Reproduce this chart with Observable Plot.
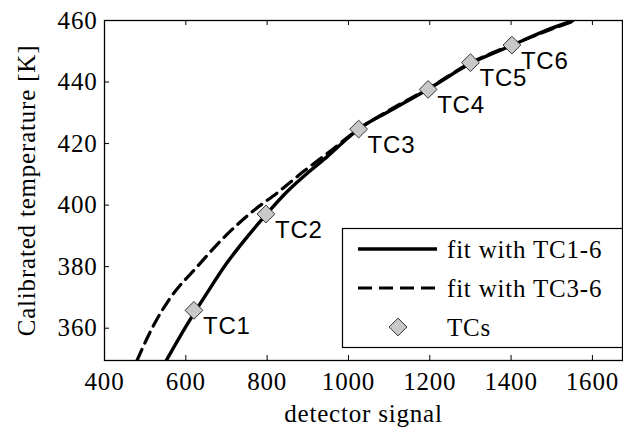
<!DOCTYPE html>
<html>
<head>
<meta charset="utf-8">
<script src="https://cdn.jsdelivr.net/npm/d3@7"></script>
<script src="https://cdn.jsdelivr.net/npm/@observablehq/plot@0.6"></script>
<style>
  html, body { margin: 0; padding: 0; background: white; }
</style>
</head>
<body>
<div id="chart"></div>
<script>
// ---- data ----
const fitAllX = [552, 600, 650, 700, 750, 800, 850, 900, 950, 1000, 1025, 1100, 1200, 1300, 1400, 1500, 1552];
const fitAllY = [349.5, 360.5, 371, 381, 389.5, 397.3, 404.5, 410.5, 416, 422, 424.7, 430.5, 438, 446, 451.8, 457.5, 460];
const fit36X = [480, 517, 560, 628, 690, 760, 830, 889, 950, 1025, 1100, 1200, 1300, 1400, 1500, 1558];
const fit36Y = [349.5, 360, 369.5, 380, 389, 397.5, 404.5, 410.9, 417, 424.7, 430.8, 438.2, 446.2, 452, 457.2, 460];
const tcNames = ["TC1", "TC2", "TC3", "TC4", "TC5", "TC6"];
const tcX = [620, 797, 1025, 1196, 1300, 1402];
const tcY = [365.8, 397.1, 424.7, 437.6, 446.3, 452];
const xTicks = [400, 600, 800, 1000, 1200, 1400, 1600];
const yTicks = [360, 380, 400, 420, 440, 460];
const legendLabels = ["fit with TC1-6", "fit with TC3-6", "TCs"];
const xLabel = "detector signal";
const yLabel = "Calibrated temperature [K]";

const fitAll = fitAllX.map((x, i) => ({x, y: fitAllY[i]}));
const fit36 = fit36X.map((x, i) => ({x, y: fit36Y[i]}));
const tcs = tcNames.map((name, i) => ({name, x: tcX[i], y: tcY[i]}));

const W = 623, H = 432;
const mL = 104, mR = 1, mT = 20, mB = 72;
const pW = W - mL - mR, pH = H - mT - mB;
const serif = "Liberation Serif, Times New Roman, serif";
const sans = "Liberation Sans, Arial, sans-serif";

const chart = Plot.plot({
  width: W,
  height: H,
  marginLeft: mL,
  marginRight: mR,
  marginTop: mT,
  marginBottom: mB,
  style: {fontFamily: serif, fontSize: "25px", letterSpacing: "0.8px", background: "white", color: "black", overflow: "visible"},
  x: {domain: [400, 1674], ticks: xTicks, tickSize: 0, tickPadding: 12, tickFormat: d3.format("d"), label: null},
  y: {domain: [349.5, 460], ticks: yTicks, tickSize: 0, tickPadding: 7, tickFormat: d3.format("d"), label: null},
  marks: [
    Plot.line(fit36, {x: "x", y: "y", stroke: "black", strokeWidth: 3.2, strokeDasharray: "12,7", curve: "monotone-x", clip: true}),
    Plot.line(fitAll, {x: "x", y: "y", stroke: "black", strokeWidth: 3.4, curve: "monotone-x", clip: true}),
    Plot.dot(tcs, {x: "x", y: "y", symbol: "diamond2", r: 8, fill: "#c8c8c8", stroke: "#333", strokeWidth: 1}),
    Plot.text(tcs, {x: "x", y: "y", text: "name", textAnchor: "start", dx: 9, dy: 16, fontFamily: sans, fontSize: 24, fill: "black"}),
    Plot.tickX(xTicks.slice(1), {x: d => d, insetTop: pH - 5, stroke: "black", strokeWidth: 1}),
    Plot.tickX(xTicks.slice(1), {x: d => d, insetBottom: pH - 5, stroke: "black", strokeWidth: 1}),
    Plot.tickY(yTicks.slice(0, -1), {y: d => d, insetRight: pW - 5, stroke: "black", strokeWidth: 1}),
    Plot.frame({stroke: "black", strokeWidth: 1.3}),
    Plot.text([xLabel], {frameAnchor: "bottom", dy: 53, textAnchor: "middle", lineAnchor: "middle", fill: "black"}),
    Plot.text([yLabel], {frameAnchor: "left", dx: -78, rotate: -90, textAnchor: "middle", lineAnchor: "middle", fill: "black"})
  ]
});

// ---- legend (inside plot, lower right) ----
const svg = d3.select(chart);
const lg = svg.append("g")
  .attr("font-family", serif).attr("font-size", 25)
  .attr("letter-spacing", "0.8px").attr("text-anchor", "start");
const bx = 342, by = 228, bw = W - 1 - bx, bh = 347 - by;
lg.append("rect").attr("x", bx + 0.5).attr("y", by + 0.5).attr("width", bw).attr("height", bh)
  .attr("fill", "white").attr("stroke", "black").attr("stroke-width", 1.2);
const rowsY = [249, 288, 327];
lg.append("line").attr("x1", 358).attr("x2", 437).attr("y1", rowsY[0]).attr("y2", rowsY[0])
  .attr("stroke", "black").attr("stroke-width", 3.4);
lg.append("line").attr("x1", 358).attr("x2", 437).attr("y1", rowsY[1]).attr("y2", rowsY[1])
  .attr("stroke", "black").attr("stroke-width", 3.2).attr("stroke-dasharray", "14,7");
lg.append("path").attr("d", d3.symbol(d3.symbolDiamond2, 8 * 8 * Math.PI)())
  .attr("transform", `translate(398,${rowsY[2]})`)
  .attr("fill", "#c8c8c8").attr("stroke", "#333").attr("stroke-width", 1);
legendLabels.forEach((t, i) => {
  lg.append("text").attr("x", 447).attr("y", rowsY[i]).attr("dy", "0.35em")
    .attr("text-anchor", "start").attr("fill", "black").text(t);
});

document.getElementById("chart").appendChild(chart);
</script>
</body>
</html>
